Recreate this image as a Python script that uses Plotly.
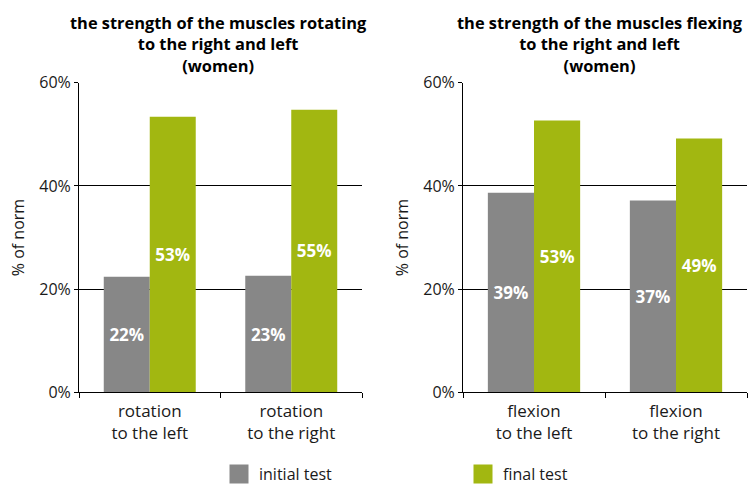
import plotly.graph_objects as go

# Muscle strength as % of norm, women, initial vs. final test
rotation_categories = ["rotation<br>to the left", "rotation<br>to the right"]
rotation_initial = [22.4, 22.6]
rotation_final = [53.4, 54.8]

flexion_categories = ["flexion<br>to the left", "flexion<br>to the right"]
flexion_initial = [38.7, 37.2]
flexion_final = [52.7, 49.2]

series_names = ["initial test", "final test"]
series_colors = ["#878787", "#A2B711"]

panel_titles = [
    "the strength of the muscles rotating<br>to the right and left<br>(women)",
    "the strength of the muscles flexing<br>to the right and left<br>(women)",
]

y_ticks = [0, 20, 40, 60]
y_tick_labels = ["0%", "20%", "40%", "60%"]

FONT = "Open Sans"
TEXT_COLOR = "#1a1a1a"
W, H = 750, 491

fig = go.Figure()

panels = [
    ("x", "y", rotation_categories, rotation_initial, rotation_final),
    ("x2", "y2", flexion_categories, flexion_initial, flexion_final),
]
for xa, ya, cats, init_vals, final_vals in panels:
    for name, color, vals in zip(series_names, series_colors, [init_vals, final_vals]):
        fig.add_trace(go.Bar(
            x=cats, y=vals, name=name, xaxis=xa, yaxis=ya,
            marker=dict(color=color, line=dict(width=0)),
            texttemplate="%{y:.0f}%", textposition="inside",
            insidetextanchor="middle", textangle=0,
            constraintext="none",
            textfont=dict(family=FONT, size=17, color="white", weight="bold"),
            showlegend=False, hoverinfo="skip",
        ))

# Legend entries drawn as square markers
for name, color in zip(series_names, series_colors):
    fig.add_trace(go.Scatter(
        x=[None], y=[None], mode="markers", name=name,
        marker=dict(symbol="square", size=16, color=color,
                    line=dict(color=color, width=3)),
        xaxis="x", yaxis="y", showlegend=True,
    ))

y_bottom = 1 - 398 / H
y_top = 1 - 84 / H

common_x = dict(
    type="category", showline=True, linecolor="black", linewidth=1,
    ticks="outside", tickson="boundaries", ticklen=5, tickcolor="black",
    ticklabelstandoff=3,
    tickfont=dict(family=FONT, size=17, color=TEXT_COLOR),
    showgrid=False, automargin=False, fixedrange=True,
)
common_y = dict(
    range=[0, 60], tickvals=y_ticks, ticktext=y_tick_labels,
    showline=True, linecolor="black", linewidth=1,
    ticks="outside", ticklen=4, tickcolor="black",
    showgrid=True, gridcolor="black", gridwidth=1,
    zeroline=False,
    tickfont=dict(family=FONT, size=16, color=TEXT_COLOR),
    title=dict(text="% of norm", font=dict(family=FONT, size=16, color=TEXT_COLOR), standoff=10),
    automargin=False, fixedrange=True,
)

fig.update_layout(
    width=W, height=H,
    margin=dict(l=0, r=0, t=0, b=0),
    paper_bgcolor="white", plot_bgcolor="white",
    font=dict(family=FONT, size=16, color=TEXT_COLOR),
    barmode="group", bargap=0.35, bargroupgap=0,
    xaxis=dict(domain=[79 / W, 362 / W], anchor="y", **common_x),
    yaxis=dict(domain=[y_bottom, y_top], anchor="x", **common_y),
    xaxis2=dict(domain=[463 / W, 747 / W], anchor="y2", **common_x),
    yaxis2=dict(domain=[y_bottom, y_top], anchor="x2", **common_y),
    legend=dict(
        orientation="h", x=219 / W, xanchor="left",
        y=1 - 464 / H, yanchor="top",
        entrywidth=199, entrywidthmode="pixels",
        font=dict(family=FONT, size=16, color=TEXT_COLOR),
        bgcolor="rgba(0,0,0,0)", itemclick=False, itemdoubleclick=False,
    ),
    showlegend=True,
)

# Panel titles, centred over each plot area (right one nudged to stay inside)
for xref, title, shift in zip(["x domain", "x2 domain"], panel_titles, [-2, -5]):
    fig.add_annotation(
        text=title, xref=xref, x=0.5, xanchor="center", xshift=shift,
        yref="paper", y=1 - 9 / H, yanchor="top",
        showarrow=False, align="center",
        font=dict(family=FONT, size=16.4, color="black", weight="bold"),
    )

fig.write_html("out.html")
